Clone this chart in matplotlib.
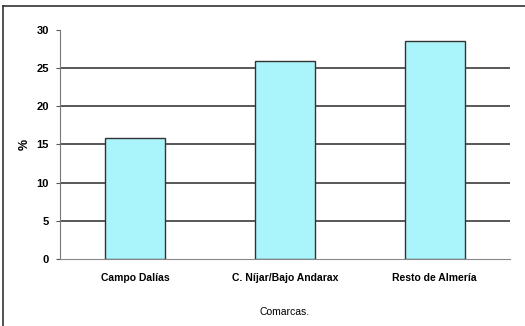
import matplotlib.pyplot as plt
from matplotlib.lines import Line2D

# porcentaje por comarca
comarcas = ['Campo Dalías', 'C. Níjar/Bajo Andarax', 'Resto de Almería']
porcentajes = [15.9, 26.0, 28.5]
yticks = [0, 5, 10, 15, 20, 25, 30]

plt.rcParams['font.family'] = ['Liberation Sans Narrow', 'Liberation Sans', 'DejaVu Sans']

fig = plt.figure(figsize=(5.25, 3.26), dpi=100)
ax = fig.add_axes([0.114, 0.2055, 0.857, 0.7025])

x = range(len(comarcas))
ax.bar(x, porcentajes, width=0.4, color='#aaf4fb', edgecolor='#333333',
       linewidth=1.0, zorder=3)

ax.set_xlim(-0.5, len(comarcas) - 0.5)
ax.set_ylim(0, 30)
ax.set_yticks(yticks)
ax.set_xticks(list(x))
ax.set_xticklabels(comarcas, fontsize=7.5, fontweight='bold')
ax.tick_params(axis='y', labelsize=8, length=3, width=0.8, color='#555555', pad=5)
ax.tick_params(axis='x', length=0, pad=10)
for lab in ax.get_yticklabels():
    lab.set_fontweight('bold')

# lineas de division horizontales
for v in yticks[1:-1]:
    ax.axhline(v, color='#2a2a2a', linewidth=1.1, zorder=1)

for side in ['top', 'right']:
    ax.spines[side].set_visible(False)
ax.spines['left'].set_color('#777777')
ax.spines['bottom'].set_color('#888888')

ax.set_ylabel('%', fontsize=9, fontweight='bold', labelpad=4)
ax.set_xlabel('Comarcas.', fontsize=7.5, labelpad=17)

# marco exterior
fig.add_artist(Line2D([3 / 525, 3 / 525], [0, 1 - 6 / 326], color='#333333',
                      linewidth=1.2, transform=fig.transFigure))
fig.add_artist(Line2D([3 / 525, 1], [1 - 6 / 326, 1 - 6 / 326], color='#333333',
                      linewidth=1.2, transform=fig.transFigure))

fig.savefig('out.png', dpi=100)
